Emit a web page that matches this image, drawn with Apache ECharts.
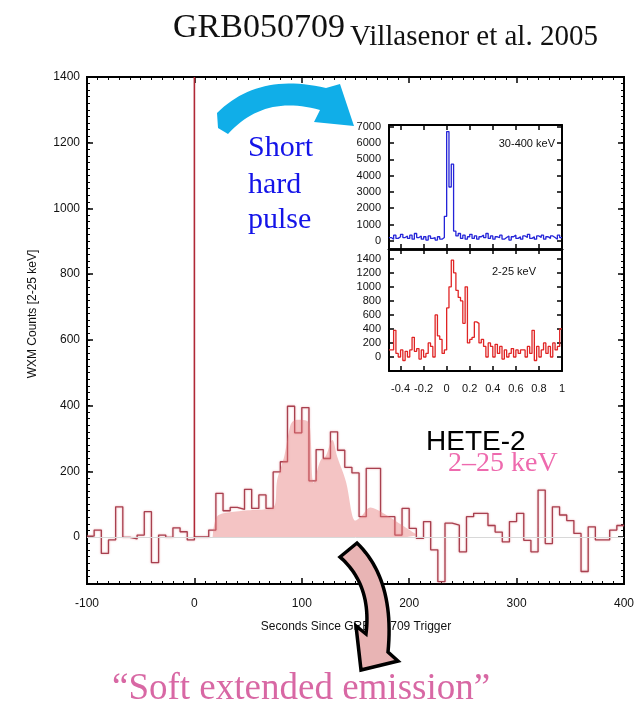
<!DOCTYPE html>
<html><head><meta charset="utf-8">
<script src="https://cdn.jsdelivr.net/npm/echarts@6/dist/echarts.min.js"></script>
<style>html,body{margin:0;padding:0;background:#fff}#c{width:638px;height:704px}</style>
</head><body><div id="c"></div>
<script>
// ---- main light curve (WXM 2-25 keV), step histogram ----
const binStart = -100;
const binWidth = 100 / 15;
const counts = [3,21,-50,-9,92,-1,-6,6,77,-78,6,-1,28,16,-9,
  0,0,21,133,80,90,84,145,87,128,87,198,229,398,317,394,171,266,239,320,264,212,
  195,62,209,209,62,62,6,87,26,-4,47,-39,-136,42,36,-45,62,72,
  72,35,15,-15,47,72,-10,-45,143,-20,92,67,50,11,-105,31,-9,-9,21,35];
// short hard pulse spike at t=0
const spikeX = [0, 0];
const spikeY = [0, 1400];
// hand-drawn "soft extended emission" shading
const shadeX = [17,18,21,27,46,74,77,81,84,88,91,97,105,107.6,111,117.5,122,128.4,133,141,150,155,164,173.5,186,198,208];
const shadeY = [0,30,62,72,80,92,173,215,250,320,350,357,353,335,165,234,244,295,244,170,50,62,90,77,52,26,5];
// main axis ticks
const mainYTicks = [0,200,400,600,800,1000,1200,1400];

// ---- inset panels ----
const insetT = [-0.50,-0.48,-0.46,-0.44,-0.42,-0.40,-0.38,-0.36,-0.34,-0.32,-0.30,-0.28,-0.26,-0.24,-0.22,-0.20,-0.18,-0.16,-0.14,-0.12,-0.10,-0.08,-0.06,-0.04,-0.02,
  0.00,0.02,0.04,0.06,0.08,0.10,0.12,0.14,0.16,0.18,0.20,0.22,0.24,0.26,0.28,0.30,0.32,0.34,0.36,0.38,0.40,0.42,0.44,0.46,0.48,
  0.50,0.52,0.54,0.56,0.58,0.60,0.62,0.64,0.66,0.68,0.70,0.72,0.74,0.76,0.78,0.80,0.82,0.84,0.86,0.88,0.90,0.92,0.94,0.96,0.98,1.00];
const hardCounts = [200,100,350,150,250,400,200,300,150,350,100,450,200,300,100,250,50,300,150,200,50,250,100,200,1500,
  6700,3300,4700,600,300,450,150,350,100,250,400,150,300,100,250,350,200,450,150,300,100,250,200,350,100,
  200,300,50,250,350,150,250,100,300,200,400,150,250,100,300,200,350,100,250,150,300,200,100,350,200,200];
const softCounts = [100,100,380,50,0,100,-50,80,0,100,280,80,120,-30,100,0,50,200,150,0,600,300,250,50,100,
  700,1000,1380,1200,950,850,800,480,1000,200,250,280,500,480,200,250,150,0,200,150,0,180,50,150,-30,
  100,0,50,120,0,100,50,100,100,0,150,50,380,-50,150,0,100,200,50,150,0,200,100,150,400,400];
const insetXTicks = [-0.4,-0.2,0,0.2,0.4,0.6,0.8,1];
const hardYTicks = [0,1000,2000,3000,4000,5000,6000,7000];
const softYTicks = [0,200,400,600,800,1000,1200,1400];

const mainYMinor = [];
for (let v = -140; v <= 1400; v += 20) mainYMinor.push(v);

const histData = counts.map((c, i) => [binStart + i * binWidth, c]);
histData.push([binStart + counts.length * binWidth, counts[counts.length - 1]]);
const shadeData = shadeX.map((x, i) => [x, shadeY[i]]);
const spikeData = spikeX.map((x, i) => [x, spikeY[i]]);
const hardData = insetT.map((t, i) => [t, hardCounts[i]]);
const softData = insetT.map((t, i) => [t, softCounts[i]]);

// decoration helpers (arrow outlines in pixels)
function qb(p0, c, p1, n) {
  const out = [];
  for (let i = 0; i <= n; i++) {
    const t = i / n, u = 1 - t;
    out.push([u*u*p0[0] + 2*u*t*c[0] + t*t*p1[0], u*u*p0[1] + 2*u*t*c[1] + t*t*p1[1]]);
  }
  return out;
}
const blueArrow = [].concat(
  [[218,128]],
  qb([217,113],[258,72],[326,88],24),
  [[340,84],[354,126],[314,122]],
  qb([320,110],[264,94],[228,134],24)
);
const pinkArrow = [].concat(
  [[340,557]],
  qb([357,543],[395,580],[388,652],24),
  [[398,661],[361,670],[356,626]],
  qb([366,634],[372,585],[340,557],24)
);

const K = '#000';
const sans = 'Liberation Sans, Arial, sans-serif';
const serif = 'Liberation Serif, Times New Roman, serif';
const plain = v => String(v);

function ax(grid, pos, min, max, extra) {
  return Object.assign({
    type: 'value', gridIndex: grid, position: pos, min: min, max: max,
    axisLine: {show: true, onZero: false, lineStyle: {color: K, width: 2}},
    axisTick: {show: false}, axisLabel: {show: false},
    splitLine: {show: false}
  }, extra || {});
}

const chart = echarts.init(document.getElementById('c'), null, {renderer: 'canvas'});
chart.setOption({
  animation: false,
  backgroundColor: '#fff',
  grid: [
    {left: 87, top: 77, width: 537, height: 507},
    {left: 389, top: 125, width: 173, height: 124, show: true, backgroundColor: '#fff', borderWidth: 0},
    {left: 389, top: 249, width: 173, height: 122, show: true, backgroundColor: '#fff', borderWidth: 0}
  ],
  xAxis: [
    ax(0, 'bottom', -100, 400, {
      interval: 100,
      axisTick: {show: true, inside: true, length: 6, lineStyle: {color: K, width: 1.5}},
      minorTick: {show: true, splitNumber: 10, length: 3, lineStyle: {color: K, width: 1}},
      axisLabel: {show: true, formatter: plain, fontFamily: sans, fontSize: 12, color: '#111', margin: 14}
    }),
    ax(0, 'top', -100, 400, {
      interval: 100,
      axisTick: {show: true, inside: true, length: 6, lineStyle: {color: K, width: 1.5}},
      minorTick: {show: true, splitNumber: 10, length: 3, lineStyle: {color: K, width: 1}}
    }),
    ax(1, 'bottom', -0.5, 1, {
      axisLine: {show: true, onZero: false, lineStyle: {color: K, width: 2.5}},
      axisTick: {show: true, inside: true, length: 5, customValues: insetXTicks, lineStyle: {color: K, width: 1.5}}
    }),
    ax(1, 'top', -0.5, 1, {
      axisTick: {show: true, inside: true, length: 5, customValues: insetXTicks, lineStyle: {color: K, width: 1.5}}
    }),
    ax(2, 'bottom', -0.5, 1, {
      axisTick: {show: true, inside: true, length: 5, customValues: insetXTicks, lineStyle: {color: K, width: 1.5}},
      axisLabel: {show: true, customValues: insetXTicks, formatter: plain, fontFamily: sans, fontSize: 11, color: '#111', margin: 12}
    }),
    ax(2, 'top', -0.5, 1, {
      axisLine: {show: true, onZero: false, lineStyle: {color: K, width: 2.5}},
      axisTick: {show: true, inside: true, length: 5, customValues: insetXTicks, lineStyle: {color: K, width: 1.5}}
    })
  ],
  yAxis: [
    ax(0, 'left', -143, 1400, {
      axisTick: {show: true, inside: true, length: 6, customValues: mainYTicks, lineStyle: {color: K, width: 1.5}},
      axisLabel: {show: true, customValues: mainYTicks, formatter: plain, fontFamily: sans, fontSize: 12, color: '#111', margin: 7}
    }),
    ax(0, 'left', -143, 1400, {
      axisTick: {show: true, inside: true, length: 3, customValues: mainYMinor, lineStyle: {color: K, width: 1}}
    }),
    ax(0, 'right', -143, 1400, {
      axisTick: {show: true, inside: true, length: 6, customValues: mainYTicks, lineStyle: {color: K, width: 1.5}}
    }),
    ax(0, 'right', -143, 1400, {
      axisTick: {show: true, inside: true, length: 3, customValues: mainYMinor, lineStyle: {color: K, width: 1}}
    }),
    ax(1, 'left', -500, 7100, {
      axisTick: {show: true, inside: true, length: 5, customValues: hardYTicks, lineStyle: {color: K, width: 1.5}},
      axisLabel: {show: true, customValues: hardYTicks, formatter: plain, fontFamily: sans, fontSize: 11, color: '#111', margin: 8}
    }),
    ax(1, 'right', -500, 7100, {
      axisTick: {show: true, inside: true, length: 5, customValues: hardYTicks, lineStyle: {color: K, width: 1.5}}
    }),
    ax(2, 'left', -200, 1540, {
      axisTick: {show: true, inside: true, length: 5, customValues: softYTicks, lineStyle: {color: K, width: 1.5}},
      axisLabel: {show: true, customValues: softYTicks, formatter: plain, fontFamily: sans, fontSize: 11, color: '#111', margin: 8}
    }),
    ax(2, 'right', -200, 1540, {
      axisTick: {show: true, inside: true, length: 5, customValues: softYTicks, lineStyle: {color: K, width: 1.5}}
    })
  ],
  series: [
    {
      name: 'WXM', type: 'line', xAxisIndex: 0, yAxisIndex: 0, step: 'end', data: histData,
      symbol: 'none', z: 3,
      lineStyle: {color: '#a8404f', width: 1.3, shadowColor: 'rgba(225,120,130,0.7)', shadowBlur: 2},
      markLine: {silent: true, symbol: 'none', label: {show: false},
        lineStyle: {color: '#d8d8d8', width: 1, type: 'solid'}, data: [{yAxis: 0}]}
    },
    {
      name: 'shade', type: 'line', xAxisIndex: 0, yAxisIndex: 0, data: shadeData, smooth: 0.35,
      symbol: 'none', z: 4, lineStyle: {width: 0},
      areaStyle: {color: 'rgba(230,120,120,0.62)', origin: 0}
    },
    {
      name: 'spike', type: 'line', xAxisIndex: 0, yAxisIndex: 0, data: spikeData,
      symbol: 'none', z: 5, lineStyle: {color: '#b02836', width: 1.6}
    },
    {
      name: 'hard', type: 'line', xAxisIndex: 2, yAxisIndex: 4, step: 'end', data: hardData,
      symbol: 'none', z: 6, lineStyle: {color: '#2424d8', width: 1.3}
    },
    {
      name: 'soft', type: 'line', xAxisIndex: 4, yAxisIndex: 6, step: 'end', data: softData,
      symbol: 'none', z: 6, lineStyle: {color: '#e02424', width: 1.3}
    }
  ],
  graphic: [
    {type: 'text', x: 173, y: 28, z: 50, style: {text: 'GRB050709', font: '34px ' + serif, fill: '#111', textVerticalAlign: 'middle'}},
    {type: 'text', x: 350, y: 37, z: 50, style: {text: 'Villasenor et al. 2005', font: '29px ' + serif, fill: '#111', textVerticalAlign: 'middle'}},
    {type: 'text', x: 248, y: 148, z: 50, style: {text: 'Short', font: '30px ' + serif, fill: '#1414e8', textVerticalAlign: 'middle'}},
    {type: 'text', x: 248, y: 185, z: 50, style: {text: 'hard', font: '30px ' + serif, fill: '#1414e8', textVerticalAlign: 'middle'}},
    {type: 'text', x: 248, y: 220, z: 50, style: {text: 'pulse', font: '30px ' + serif, fill: '#1414e8', textVerticalAlign: 'middle'}},
    {type: 'text', x: 426, y: 442, z: 50, style: {text: 'HETE-2', font: '28px ' + sans, fill: '#000', textVerticalAlign: 'middle'}},
    {type: 'text', x: 448, y: 464, z: 50, style: {text: '2–25 keV', font: '28px ' + serif, fill: '#ee6aae', textVerticalAlign: 'middle'}},
    {type: 'text', x: 555, y: 144, z: 50, style: {text: '30-400 keV', font: '11px ' + sans, fill: '#111', textAlign: 'right', textVerticalAlign: 'middle'}},
    {type: 'text', x: 492, y: 272, z: 50, style: {text: '2-25 keV', font: '11px ' + sans, fill: '#111', textVerticalAlign: 'middle'}},
    {type: 'text', x: 356, y: 627, z: 40, style: {text: 'Seconds Since GRB050709 Trigger', font: '12px ' + sans, fill: '#111', textAlign: 'center', textVerticalAlign: 'middle'}},
    {type: 'text', x: 33, y: 314, rotation: Math.PI / 2, z: 40, style: {text: 'WXM Counts [2-25 keV]', font: '12px ' + sans, fill: '#111', textAlign: 'center', textVerticalAlign: 'middle'}},
    {type: 'text', x: 112, y: 689, z: 50, style: {text: '\u201CSoft extended emission\u201D', font: '37px ' + serif, fill: '#d868a4', textVerticalAlign: 'middle'}},
    {type: 'polygon', z: 45, shape: {points: blueArrow}, style: {fill: '#10aee8', stroke: 'none'}},
    {type: 'polygon', z: 45, shape: {points: pinkArrow}, style: {fill: '#e8b4b4', stroke: '#000', lineWidth: 3.5, lineJoin: 'miter'}}
  ]
});
</script></body></html>
